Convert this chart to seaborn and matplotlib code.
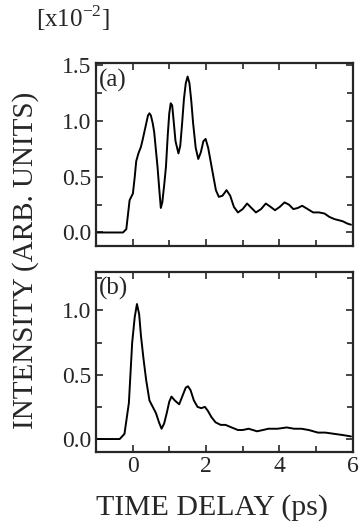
import numpy as np
import pandas as pd
import matplotlib
matplotlib.use("Agg")
import matplotlib.pyplot as plt
from matplotlib.ticker import MultipleLocator
import seaborn as sns

# panel (a): time delay (ps) vs intensity [x1e-2]
t_a = [-1.0, -0.5, -0.26, -0.17, -0.08, 0.01, 0.06, 0.10, 0.16, 0.23, 0.28,
       0.32, 0.38, 0.42, 0.46, 0.50, 0.55, 0.59, 0.68, 0.73, 0.77, 0.81, 0.86,
       0.91, 0.96, 1.00, 1.04, 1.08, 1.12, 1.17, 1.25, 1.30, 1.35, 1.40, 1.45,
       1.50, 1.55, 1.60, 1.65, 1.72, 1.79, 1.86, 1.93, 1.99, 2.06, 2.17, 2.27,
       2.35, 2.45, 2.56, 2.66, 2.76, 2.87, 3.00, 3.12, 3.24, 3.36, 3.50, 3.63,
       3.76, 3.88, 4.01, 4.14, 4.26, 4.38, 4.50, 4.62, 4.77, 4.92, 5.08, 5.23,
       5.36, 5.50, 5.62, 5.73, 5.85, 5.95]
i_a = [0.00, 0.00, 0.00, 0.03, 0.29, 0.35, 0.50, 0.64, 0.71, 0.77, 0.84,
       0.90, 0.99, 1.05, 1.07, 1.05, 0.98, 0.90, 0.59, 0.38, 0.22, 0.27, 0.42,
       0.59, 0.88, 1.07, 1.16, 1.14, 1.00, 0.82, 0.71, 0.78, 0.98, 1.20, 1.34,
       1.40, 1.34, 1.18, 0.98, 0.76, 0.66, 0.72, 0.82, 0.84, 0.76, 0.56, 0.38,
       0.32, 0.33, 0.38, 0.33, 0.23, 0.18, 0.21, 0.26, 0.22, 0.18, 0.21, 0.26,
       0.23, 0.20, 0.23, 0.27, 0.25, 0.21, 0.22, 0.24, 0.21, 0.18, 0.18, 0.17,
       0.14, 0.12, 0.11, 0.10, 0.08, 0.07]

# panel (b)
t_b = [-1.0, -0.5, -0.35, -0.22, -0.10, -0.01, 0.06, 0.12, 0.18, 0.23, 0.30,
       0.37, 0.46, 0.55, 0.64, 0.72, 0.79, 0.86, 0.93, 1.00, 1.06, 1.15, 1.27,
       1.38, 1.45, 1.51, 1.58, 1.67, 1.77, 1.87, 1.97, 2.05, 2.15, 2.26, 2.40,
       2.53, 2.70, 2.87, 3.00, 3.16, 3.28, 3.39, 3.55, 3.70, 3.95, 4.20, 4.40,
       4.60, 4.80, 5.05, 5.25, 5.50, 5.75, 5.95]
i_b = [0.00, 0.00, 0.00, 0.04, 0.28, 0.75, 0.95, 1.05, 0.97, 0.80, 0.62,
       0.46, 0.30, 0.25, 0.20, 0.13, 0.08, 0.12, 0.20, 0.29, 0.33, 0.30, 0.27,
       0.35, 0.40, 0.41, 0.38, 0.30, 0.25, 0.24, 0.25, 0.22, 0.17, 0.13, 0.11,
       0.11, 0.09, 0.07, 0.07, 0.08, 0.07, 0.06, 0.07, 0.08, 0.08, 0.09, 0.08,
       0.08, 0.07, 0.05, 0.05, 0.04, 0.03, 0.02]

x_ticks = [0, 2, 4, 6]

sns.set_style("ticks")
plt.rcParams['font.family'] = ['Liberation Serif', 'DejaVu Serif']
plt.rcParams['mathtext.fontset'] = 'custom'
plt.rcParams['mathtext.rm'] = 'Liberation Serif'

fig = plt.figure(figsize=(3.63, 5.31), dpi=100)
ax_a = fig.add_axes([0.264, 0.537, 0.708, 0.344])
ax_b = fig.add_axes([0.264, 0.149, 0.708, 0.339])

df_a = pd.DataFrame({'t': t_a, 'I': i_a})
df_b = pd.DataFrame({'t': t_b, 'I': i_b})
sns.lineplot(data=df_a, x='t', y='I', ax=ax_a, color='black', linewidth=1.4)
sns.lineplot(data=df_b, x='t', y='I', ax=ax_b, color='black', linewidth=1.4)

ax_a.set_ylim(-0.12, 1.52)
ax_b.set_ylim(-0.10, 1.30)
for ax, lab in [(ax_a, '(a)'), (ax_b, '(b)')]:
    ax.set_xlim(-1, 6)
    ax.set_xlabel('')
    ax.set_ylabel('')
    ax.xaxis.set_major_locator(MultipleLocator(2))
    ax.xaxis.set_minor_locator(MultipleLocator(1))
    ax.yaxis.set_major_locator(MultipleLocator(0.5))
    ax.yaxis.set_minor_locator(MultipleLocator(0.25))
    ax.yaxis.set_major_formatter(matplotlib.ticker.FormatStrFormatter('%.1f'))
    ax.tick_params(which='both', direction='in', top=True, right=True,
                   width=1.2, labelsize=17, pad=3)
    ax.tick_params(which='major', length=5)
    ax.tick_params(which='minor', length=4)
    for s in ax.spines.values():
        s.set_linewidth(1.6)
        s.set_visible(True)
    ax.text(0.01, 0.97, lab, transform=ax.transAxes, ha='left', va='top', fontsize=18)

ax_b.set_xticks(x_ticks)
ax_a.tick_params(labelbottom=False)

fig.text(0.585, 0.045, 'TIME DELAY (ps)', ha='center', va='center', fontsize=21.5)
fig.text(0.07, 0.51, 'INTENSITY (ARB. UNITS)', ha='center', va='center',
         rotation=90, fontsize=21)
fig.text(0.2, 0.965, r'[x10$^{\mathregular{-2}}$]', ha='center', va='center', fontsize=18)

fig.savefig('out.png', dpi=100)
